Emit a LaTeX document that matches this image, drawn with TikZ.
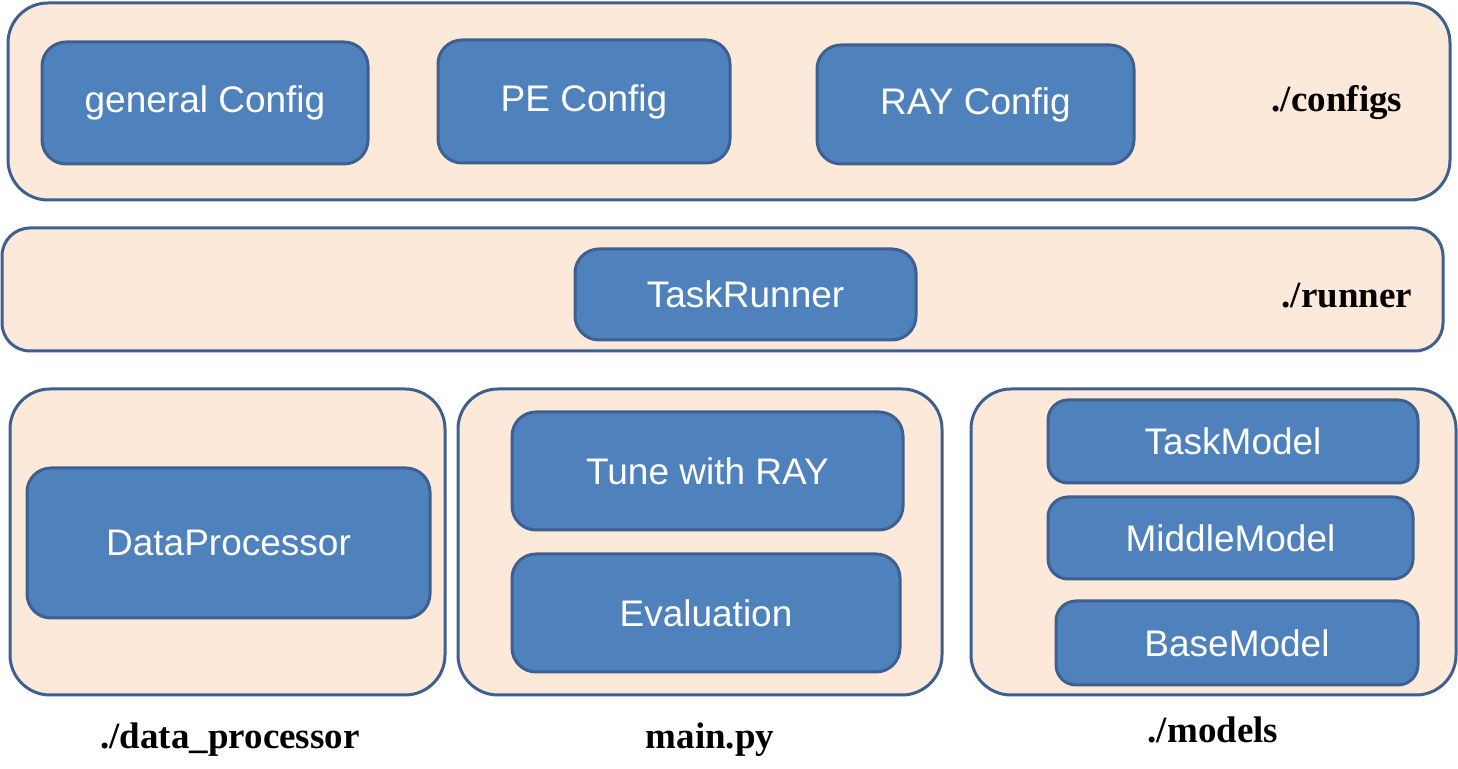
\documentclass[tikz,border=0pt]{standalone}
\usepackage{fontspec}
\setmainfont{Liberation Serif}
\newfontfamily\boxfont{Liberation Sans}
\usepackage{tikz}
\usetikzlibrary{shapes, calc}
\definecolor{peach}{HTML}{FDE9DA}
\definecolor{boxblue}{HTML}{4F81BD}
\definecolor{edgeblue}{HTML}{3D6090}
\tikzset{font=\fontsize{18.5}{22}\selectfont}
\tikzset{group/.style={shape=rectangle, draw=edgeblue, fill=peach,
    line width=1.5pt, rounded corners=20pt, inner sep=0pt}}
\tikzset{module/.style={shape=rectangle, draw=edgeblue, fill=boxblue,
    line width=1.5pt, rounded corners=12pt, inner sep=0pt,
    text=white, font=\boxfont\fontsize{18.5}{22}\selectfont}}
\tikzset{dir/.style={font=\bfseries\fontsize{18.5}{22}\selectfont}}

\begin{document}
\begin{tikzpicture}[x=.5pt,y=-.5pt]
    \useasboundingbox (0,0) rectangle (1458,769);
    \node[group, minimum width=721pt, minimum height=98.5pt] (configs) at (729,101.5) {};
    \node[module, minimum width=163pt, minimum height=61pt] (general) at (205,103) {general Config};
    \node[module, minimum width=146pt, minimum height=61.5pt] (pe) at (584,101.5) {PE Config};
    \node[module, minimum width=158.5pt, minimum height=59.5pt] (ray) at (975.5,104.5) {RAY Config};
    \node[dir] (configslbl) at (1337,103) {./configs};
    \node[group, rounded corners=14pt, minimum width=720.5pt, minimum height=61.5pt] (runner) at (722.5,289.5) {};
    \node[module, minimum width=170.5pt, minimum height=45.5pt] (taskrunner) at (745.5,294.5) {TaskRunner};
    \node[dir] (runnerlbl) at (1347,296) {./runner};
    \node[group, minimum width=217.5pt, minimum height=153pt] (dataproc) at (227.5,542) {};
    \node[module, minimum width=201.5pt, minimum height=75pt] (processor) at (228.5,543) {DataProcessor};
    \node[dir] (dataproclbl) at (230,740) {./data\_processor};
    \node[group, minimum width=242pt, minimum height=153pt] (mainpy) at (700,542) {};
    \node[module, minimum width=195.5pt, minimum height=59pt] (tune) at (707.5,471) {Tune with RAY};
    \node[module, minimum width=194pt, minimum height=59pt] (eval) at (706,613) {Evaluation};
    \node[dir] (mainpylbl) at (710,740) {main.py};
    \node[group, minimum width=242.5pt, minimum height=153pt] (models) at (1213.5,542) {};
    \node[module, rounded corners=10pt, minimum width=185pt, minimum height=41.5pt] (taskmodel) at (1233,441.5) {TaskModel};
    \node[module, rounded corners=10pt, minimum width=182.5pt, minimum height=41pt] (middlemodel) at (1230.5,538) {MiddleModel};
    \node[module, rounded corners=10pt, minimum width=181pt, minimum height=42pt] (basemodel) at (1237,643) {BaseModel};
    \node[dir] (modelslbl) at (1213,730) {./models};
  \end{tikzpicture}
\end{document}
